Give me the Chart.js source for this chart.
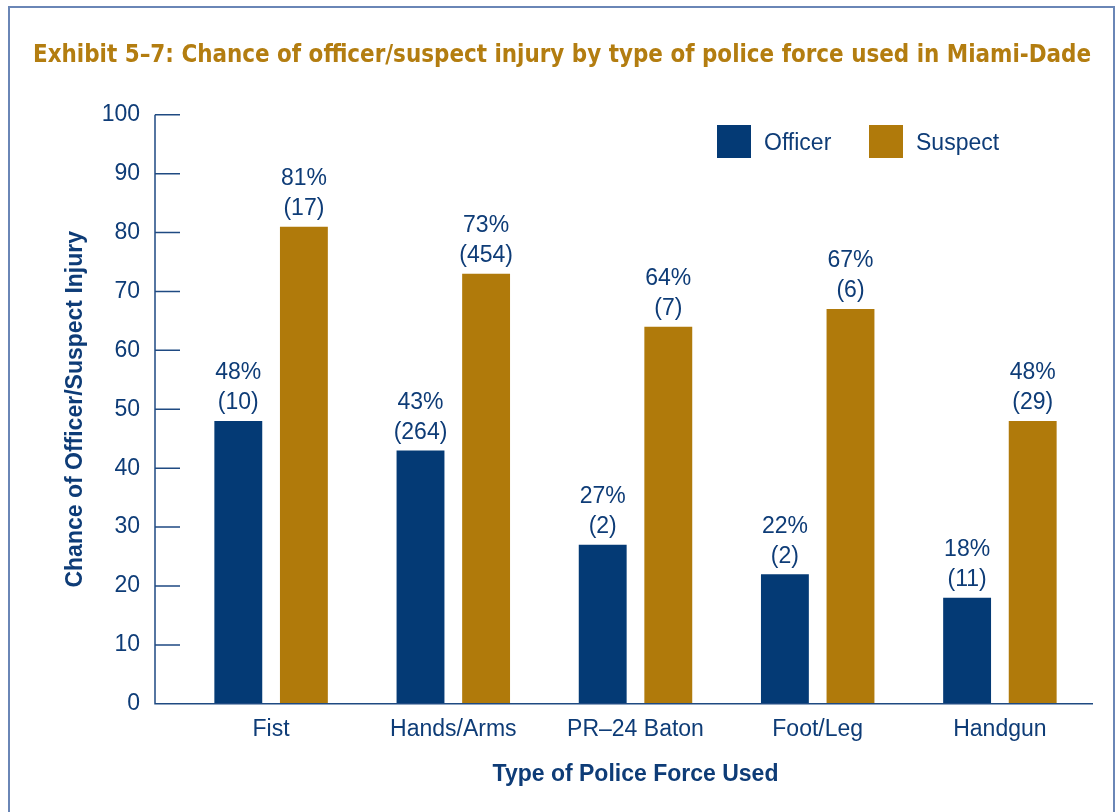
<!DOCTYPE html>
<html>
<head>
<meta charset="utf-8">
<script src="https://cdn.jsdelivr.net/npm/chart.js@4/dist/chart.umd.min.js"></script>
<style>
  html, body { margin: 0; padding: 0; background: #fff; overflow: hidden; }
  #wrap { position: relative; width: 1116px; height: 812px; }
  #frame { position: absolute; left: 8px; top: 6px; width: 1103px; height: 900px; border: 2px solid #6a86b6; }
  canvas { position: absolute; left: 0; top: 0; }
</style>
</head>
<body>
<div id="wrap">
  <div id="frame"></div>
  <canvas id="injuryChart" width="1116" height="812"></canvas>
</div>
<script>
const categories = ['Fist', 'Hands/Arms', 'PR\u201324 Baton', 'Foot/Leg', 'Handgun'];
const officerPct = [48, 43, 27, 22, 18];
const suspectPct = [81, 73, 64, 67, 48];
const officerCounts = [10, 264, 2, 2, 11];
const suspectCounts = [17, 454, 7, 6, 29];
const yTicks = [0, 10, 20, 30, 40, 50, 60, 70, 80, 90, 100];

const navy = '#043a75';
const gold = '#b07a0b';
const textNavy = '#0e3c77';
const axisColor = '#1f4a82';
const fontFamily = "'Liberation Sans', Arial, sans-serif";

// Axis line with ticks pointing into the plot, drawn off to the left of the bars
const axisPlugin = {
  id: 'inwardAxis',
  afterDatasetsDraw(chart) {
    const { ctx, chartArea, scales } = chart;
    const x0 = chartArea.left - 25;
    ctx.save();
    ctx.strokeStyle = axisColor;
    ctx.lineWidth = 1.5;
    ctx.beginPath();
    ctx.moveTo(x0, scales.y.getPixelForValue(100));
    ctx.lineTo(x0, chartArea.bottom);
    ctx.lineTo(chartArea.right + 2, chartArea.bottom);
    yTicks.forEach(t => {
      const py = scales.y.getPixelForValue(t);
      ctx.moveTo(x0, py);
      ctx.lineTo(chartArea.left, py);
    });
    ctx.stroke();
    ctx.restore();
  }
};

// Two-line labels above each bar: percent and (count)
const barLabelPlugin = {
  id: 'barLabels',
  afterDatasetsDraw(chart) {
    const { ctx } = chart;
    const counts = [officerCounts, suspectCounts];
    ctx.save();
    ctx.font = `23px ${fontFamily}`;
    ctx.fillStyle = textNavy;
    ctx.textAlign = 'center';
    ctx.textBaseline = 'middle';
    chart.data.datasets.forEach((ds, di) => {
      chart.getDatasetMeta(di).data.forEach((bar, i) => {
        ctx.fillText(ds.data[i] + '%', bar.x, bar.y - 48);
        ctx.fillText('(' + counts[di][i] + ')', bar.x, bar.y - 18);
      });
    });
    ctx.restore();
  }
};

// Legend inside the plot, top right
const legendPlugin = {
  id: 'insideLegend',
  afterDraw(chart) {
    const { ctx } = chart;
    const spots = [717, 869];
    ctx.save();
    ctx.font = `23px ${fontFamily}`;
    ctx.textBaseline = 'middle';
    chart.data.datasets.forEach((ds, i) => {
      ctx.fillStyle = ds.backgroundColor;
      ctx.fillRect(spots[i], 125, 34, 33);
      ctx.fillStyle = textNavy;
      ctx.fillText(ds.label, spots[i] + 47, 144);
    });
    ctx.restore();
  }
};

const ctx = document.getElementById('injuryChart').getContext('2d');
new Chart(ctx, {
  type: 'bar',
  data: {
    labels: categories,
    datasets: [
      { label: 'Officer', data: officerPct, backgroundColor: navy },
      { label: 'Suspect', data: suspectPct, backgroundColor: gold }
    ]
  },
  options: {
    responsive: false,
    animation: false,
    devicePixelRatio: 1,
    categoryPercentage: 0.72,
    barPercentage: 0.73,
    layout: { padding: { left: 33, right: 25, top: 22, bottom: 20 } },
    plugins: {
      legend: { display: false },
      tooltip: { enabled: false },
      title: {
        display: true,
        align: 'start',
        text: 'Exhibit 5\u20137: Chance of officer/suspect injury by type of police force used in Miami-Dade',
        color: '#b37d10',
        font: { family: "'Liberation Sans Narrow', 'DejaVu Sans Condensed', sans-serif", size: 25.6, weight: 'bold' },
        padding: { top: 18, bottom: 44 }
      }
    },
    scales: {
      x: {
        grid: { display: false, drawTicks: false },
        border: { display: false },
        ticks: { color: textNavy, font: { family: fontFamily, size: 23 }, padding: 12 },
        title: {
          display: true,
          text: 'Type of Police Force Used',
          color: textNavy,
          font: { family: fontFamily, size: 23, weight: 'bold' },
          padding: { top: 5, bottom: 4 }
        }
      },
      y: {
        min: 0,
        max: 100,
        afterFit(scale) { scale.width = 147; },
        afterBuildTicks(scale) { scale.ticks = yTicks.map(v => ({ value: v })); },
        grid: { display: false, drawTicks: false },
        border: { display: false },
        ticks: { color: textNavy, font: { family: fontFamily, size: 23 }, padding: 40 },
        title: {
          display: true,
          text: 'Chance of Officer/Suspect Injury',
          color: textNavy,
          font: { family: fontFamily, size: 23, weight: 'bold' },
          padding: { top: 29, bottom: 10 }
        }
      }
    }
  },
  plugins: [axisPlugin, barLabelPlugin, legendPlugin]
});
</script>
</body>
</html>
